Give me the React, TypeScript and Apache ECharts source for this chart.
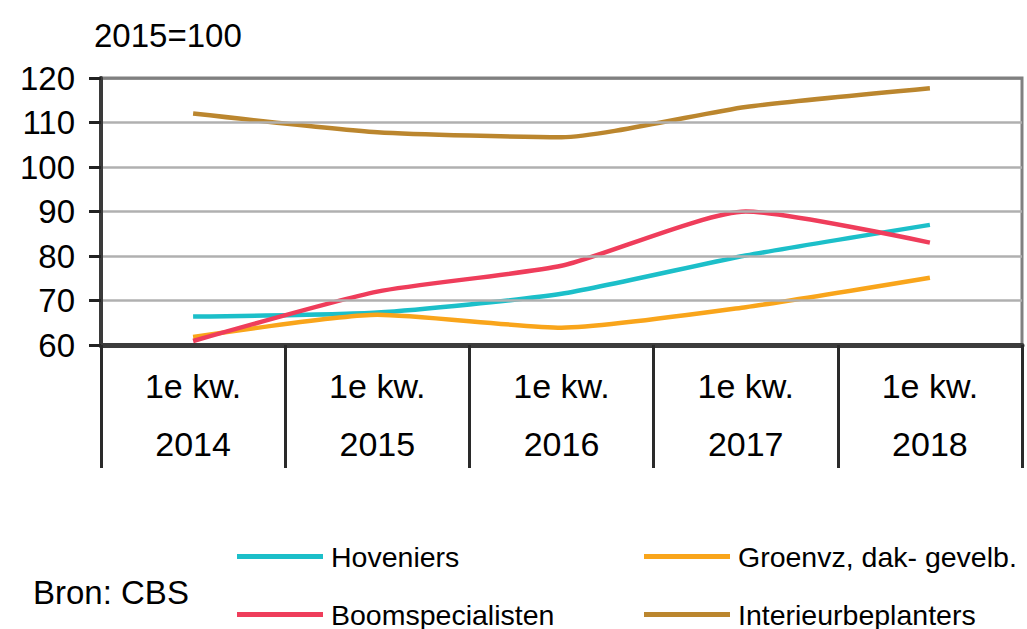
import React, { useEffect, useRef } from "react";
import * as echarts from "echarts";

const categories = ["1e kw.\n2014", "1e kw.\n2015", "1e kw.\n2016", "1e kw.\n2017", "1e kw.\n2018"];
const hoveniers = [66.4, 67.3, 71.5, 80.1, 87.0];
const groenvz = [61.8, 66.8, 63.9, 68.5, 75.1];
const boomspecialisten = [60.9, 72.0, 77.8, 90.0, 83.0];
const interieurbeplanters = [112.0, 107.8, 106.7, 113.5, 117.7];
const yTicks = { min: 60, max: 120, interval: 10 };

const FONT = "'Liberation Sans', Arial, sans-serif";

export default function App() {
  const ref = useRef<HTMLDivElement>(null);
  useEffect(() => {
    if (!ref.current) return;
    const chart = echarts.init(ref.current, undefined, { renderer: "svg" });
    const mk = (name: string, data: number[], color: string) => ({
      name,
      type: "line",
      data,
      smooth: 0.2,
      symbol: "none",
      lineStyle: { color, width: 4.5 },
      itemStyle: { color },
    });
    const legendBase = {
      orient: "horizontal",
      icon: "rect",
      itemWidth: 86,
      itemHeight: 5,
      padding: 0,
      textStyle: { fontFamily: FONT, fontSize: 28.5, lineHeight: 27, color: "#000", padding: [0, 0, 0, 3] },
    };
    chart.setOption({
      animation: false,
      backgroundColor: "#ffffff",
      textStyle: { fontFamily: FONT },
      title: {
        text: "2015=100",
        left: 89,
        top: 14,
        textStyle: { fontFamily: FONT, fontSize: 33, fontWeight: "normal", color: "#000" },
      },
      grid: {
        left: 101,
        right: 5,
        top: 78,
        bottom: 284,
        show: true,
        borderColor: "#808080",
        borderWidth: 3,
        backgroundColor: "transparent",
      },
      legend: [
        { ...legendBase, left: 237, top: 542, data: ["Hoveniers"] },
        { ...legendBase, left: 237, top: 600, data: ["Boomspecialisten"] },
        { ...legendBase, left: 644, top: 542, data: ["Groenvz, dak- gevelb."] },
        { ...legendBase, left: 644, top: 600, data: ["Interieurbeplanters"] },
      ],
      graphic: [
        {
          type: "text",
          left: 33,
          top: 576,
          style: { text: "Bron: CBS", fontFamily: FONT, fontSize: 33, fill: "#000" },
        },
      ],
      xAxis: {
        type: "category",
        data: categories,
        boundaryGap: true,
        axisLine: { show: true, lineStyle: { color: "#3c3c3c", width: 5 } },
        axisTick: { show: true, interval: 0, length: 123, lineStyle: { color: "#2a2a2a", width: 3 } },
        axisLabel: {
          interval: 0,
          margin: 12,
          fontFamily: FONT,
          fontSize: 34,
          lineHeight: 58,
          color: "#000",
        },
        splitLine: { show: false },
        z: 5,
      },
      yAxis: {
        type: "value",
        min: yTicks.min,
        max: yTicks.max,
        interval: yTicks.interval,
        axisLine: { show: true, lineStyle: { color: "#3a3a3a", width: 4 } },
        axisTick: { show: true, length: 12, lineStyle: { color: "#222", width: 3 } },
        axisLabel: { margin: 26, fontFamily: FONT, fontSize: 33, color: "#000" },
        splitLine: {
          show: true,
          lineStyle: {
            color: ["#b0b0b0", "#b0b0b0", "#b0b0b0", "#b0b0b0", "#b0b0b0", "#b0b0b0", "#808080"],
            width: 2.5,
          },
        },
        z: 5,
      },
      series: [
        mk("Hoveniers", hoveniers, "#1cbfc9"),
        mk("Groenvz, dak- gevelb.", groenvz, "#f9a51b"),
        mk("Boomspecialisten", boomspecialisten, "#ef3d5b"),
        mk("Interieurbeplanters", interieurbeplanters, "#bb862e"),
      ],
    });
    return () => chart.dispose();
  }, []);
  return (
    <div
      ref={ref}
      style={{ position: "absolute", left: 0, top: 0, width: 1027, height: 629 }}
    />
  );
}
